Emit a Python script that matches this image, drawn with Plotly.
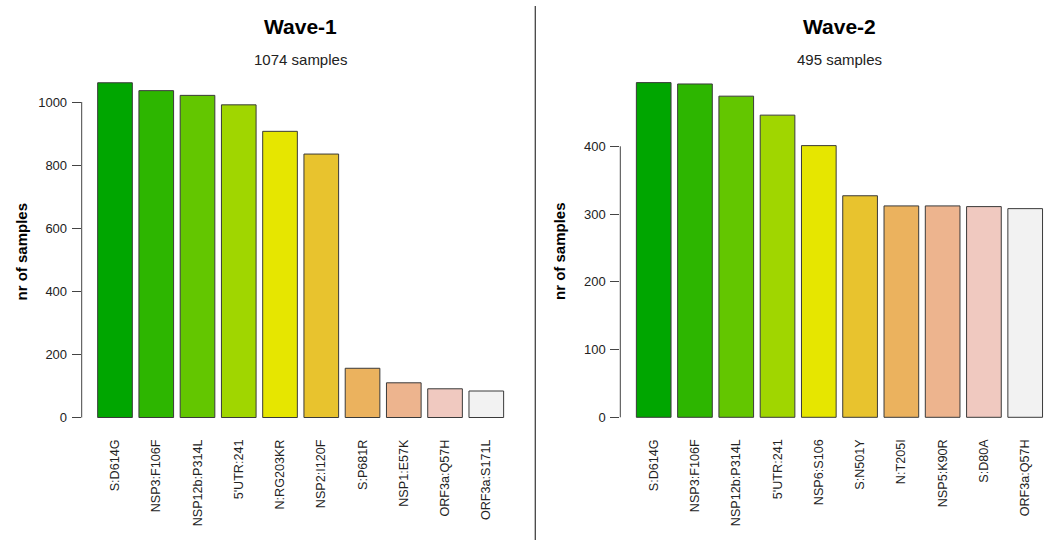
import plotly.graph_objects as go

# Mutation counts per wave
wave1_mutations = ["S:D614G", "NSP3:F106F", "NSP12b:P314L", "5'UTR:241", "N:RG203KR",
                   "NSP2:I120F", "S:P681R", "NSP1:E57K", "ORF3a:Q57H", "ORF3a:S171L"]
wave1_counts = [1061, 1036, 1021, 991, 907, 835, 156, 110, 91, 84]

wave2_mutations = ["S:D614G", "NSP3:F106F", "NSP12b:P314L", "5'UTR:241", "NSP6:S106",
                   "S:N501Y", "N:T205I", "NSP5:K90R", "S:D80A", "ORF3a:Q57H"]
wave2_counts = [494, 492, 474, 446, 401, 327, 312, 312, 311, 308]

wave_titles = ["Wave-1", "Wave-2"]
wave_subtitles = ["1074 samples", "495 samples"]
y_ticks_1 = [0, 200, 400, 600, 800, 1000]
y_ticks_2 = [0, 100, 200, 300, 400]

# terrain palette, 10 steps
palette = ["#00A600", "#2DB600", "#63C600", "#A0D600", "#E6E600",
           "#E8C32E", "#EBB25E", "#EDB48E", "#F0C9C0", "#F2F2F2"]

W, H = 1045, 540
FONT = "Liberation Sans, Arial, sans-serif"
AXIS_COL = "#444444"
TEXT_COL = "#222222"


def xdom(p0, p1):
    return [p0 / W, p1 / W]


def ydom(pb, pt):
    return [(H - pb) / H, (H - pt) / H]


def panel_geometry(left_px, right_px, c0_px, step_px, zero_px, unit_px, bottom_px, top_px):
    xr = [(left_px - c0_px) / step_px, (right_px - c0_px) / step_px]
    yr = [(zero_px - bottom_px) / unit_px, (zero_px - top_px) / unit_px]
    return xdom(left_px, right_px), xr, ydom(bottom_px, top_px), yr


# panel 1 layout: axis at x=81.7, bar centers 115 -> 486.3, zero at y=417.5, 1000 at y=102
g1 = panel_geometry(81.7, 522, 115.0, (486.3 - 115.0) / 9, 417.5, (417.5 - 102.0) / 1000, 418.5, 70)
# panel 2 layout: axis at x=620.3, bar centers 653.7 -> 1025.2, zero at y=417.3, 400 at y=146.3
g2 = panel_geometry(620.3, 1045, 653.7, (1025.2 - 653.7) / 9, 417.3, (417.3 - 146.3) / 400, 418.3, 70)

fig = go.Figure()

for i, (names, counts) in enumerate([(wave1_mutations, wave1_counts),
                                      (wave2_mutations, wave2_counts)]):
    sfx = "" if i == 0 else "2"
    fig.add_trace(go.Bar(
        x=list(range(len(names))), y=counts,
        marker=dict(color=palette, line=dict(color="#3a3a3a", width=1)),
        width=0.84, xaxis="x" + sfx, yaxis="y" + sfx,
        showlegend=False, hoverinfo="skip",
    ))

common_x = dict(showgrid=False, zeroline=False, showline=False, ticks="outside",
                ticklen=15, tickcolor="rgba(0,0,0,0)", tickangle=-90, automargin=False,
                tickfont=dict(family=FONT, size=12.6, color=TEXT_COL), fixedrange=True)
common_y = dict(showgrid=False, zeroline=False, showline=False, ticks="outside",
                ticklen=9, tickwidth=1, tickcolor=AXIS_COL, automargin=False,
                ticklabelstandoff=2,
                tickfont=dict(family=FONT, size=13, color=TEXT_COL), fixedrange=True)

fig.update_layout(
    width=W, height=H,
    margin=dict(l=0, r=0, t=0, b=0, pad=0),
    paper_bgcolor="white", plot_bgcolor="white",
    xaxis=dict(domain=g1[0], range=g1[1], tickvals=list(range(10)),
               ticktext=wave1_mutations, anchor="y", **common_x),
    yaxis=dict(domain=g1[2], range=g1[3], tickvals=y_ticks_1, anchor="x", **common_y),
    xaxis2=dict(domain=g2[0], range=g2[1], tickvals=list(range(10)),
                ticktext=wave2_mutations, anchor="y2", **common_x),
    yaxis2=dict(domain=g2[2], range=g2[3], tickvals=y_ticks_2, anchor="x2", **common_y),
)

# y axis lines spanning first to last tick only
fig.add_shape(type="line", xref="x domain", yref="y", x0=0, x1=0,
              y0=y_ticks_1[0], y1=y_ticks_1[-1], line=dict(color=AXIS_COL, width=1))
fig.add_shape(type="line", xref="x2 domain", yref="y2", x0=0, x1=0,
              y0=y_ticks_2[0], y1=y_ticks_2[-1], line=dict(color=AXIS_COL, width=1))

# divider between the two panels
fig.add_shape(type="line", xref="paper", yref="paper", x0=535.3 / W, x1=535.3 / W,
              y0=0, y1=(H - 6) / H, line=dict(color=AXIS_COL, width=1.3))

# titles, subtitles and y-axis titles
centers = [300.7, 839.5]
ytitle_x = [21, 559.5]
for i in range(2):
    fig.add_annotation(x=centers[i] / W, y=(H - 26) / H, xref="paper", yref="paper",
                       text="<b>" + wave_titles[i] + "</b>", showarrow=False,
                       font=dict(family=FONT, size=21, color="#000000"),
                       xanchor="center", yanchor="middle")
    fig.add_annotation(x=centers[i] / W, y=(H - 59) / H, xref="paper", yref="paper",
                       text=wave_subtitles[i], showarrow=False,
                       font=dict(family=FONT, size=15, color=TEXT_COL),
                       xanchor="center", yanchor="middle")
    fig.add_annotation(x=ytitle_x[i] / W, y=(H - 251.5) / H, xref="paper", yref="paper",
                       text="<b>nr of samples</b>", showarrow=False, textangle=-90,
                       font=dict(family=FONT, size=15, color="#000000"),
                       xanchor="center", yanchor="middle")

fig.write_html("out.html")
